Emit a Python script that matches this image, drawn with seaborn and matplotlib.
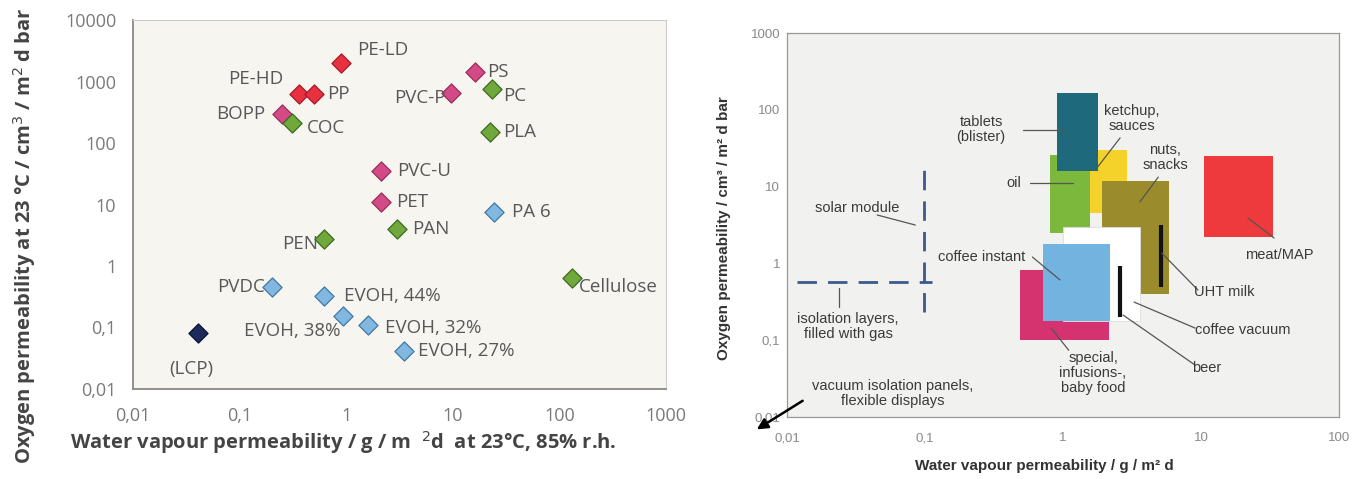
import pandas as pd
import matplotlib.pyplot as plt
import seaborn as sns
from matplotlib.ticker import FixedLocator, FixedFormatter, NullLocator

# left panel: materials
materials = ['PE-LD', 'PE-HD', 'PP', 'BOPP', 'COC', 'PVC-P', 'PS', 'PC', 'PLA',
             'PVC-U', 'PET', 'PA 6', 'PAN', 'PEN', 'Cellulose', 'PVDC',
             'EVOH, 44%', 'EVOH, 38%', 'EVOH, 32%', 'EVOH, 27%', '(LCP)']
wvtr = [0.9, 0.36, 0.5, 0.25, 0.31, 9.5, 16, 23, 22,
        2.1, 2.1, 24, 3.0, 0.62, 131, 0.20,
        0.62, 0.94, 1.6, 3.5, 0.041]
otr = [2000, 620, 620, 300, 210, 660, 1450, 750, 153,
       35, 11.2, 7.7, 4.0, 2.7, 0.65, 0.45,
       0.33, 0.155, 0.11, 0.042, 0.081]
group = ['polyolefin', 'polyolefin', 'polyolefin', 'vinyl', 'green', 'vinyl', 'vinyl', 'green', 'green',
         'vinyl', 'vinyl', 'blue', 'green', 'green', 'green', 'blue',
         'blue', 'blue', 'blue', 'blue', 'navy']

left_ticks = [0.01, 0.1, 1, 10, 100, 1000, 10000]
left_ticklabels = ['0,01', '0,1', '1', '10', '100', '1000', '10000']

# right panel: packaging requirements (x range, y range)
products = ['tablets', 'oil', 'ketchup', 'nuts', 'meat', 'coffee vacuum', 'coffee instant', 'special']
prod_x0 = [0.9, 0.8, 1.58, 1.9, 10.5, 1.0, 0.71, 0.49]
prod_x1 = [1.8, 1.58, 2.9, 5.9, 33, 3.6, 2.2, 2.15]
prod_y0 = [16, 2.5, 4.5, 0.4, 2.2, 0.18, 0.18, 0.1]
prod_y1 = [165, 26, 30, 12, 25, 3.0, 1.8, 0.83]

# vertical bars: beer, UHT milk
bar_names = ['beer', 'UHT milk']
bar_x = [2.6, 5.1]
bar_y0 = [0.2, 0.5]
bar_y1 = [0.92, 3.2]

right_ticks_x = [0.01, 0.1, 1, 10, 100]
right_ticklabels_x = ['0,01', '0,1', '1', '10', '100']
right_ticks_y = [0.01, 0.1, 1, 10, 100, 1000]
right_ticklabels_y = ['0,01', '0,1', '1', '10', '100', '1000']

df = pd.DataFrame({'material': materials, 'wvtr': wvtr, 'otr': otr, 'group': group})

face = {'polyolefin': '#e8303f', 'vinyl': '#d24b86', 'green': '#6fa83c',
        'blue': '#82b8df', 'navy': '#1e2a5c'}
edge = {'polyolefin': '#a8182a', 'vinyl': '#9c2a5a', 'green': '#3f6a1e',
        'blue': '#3f78a8', 'navy': '#0c1432'}

sns.set_style('white')
plt.rcParams['font.family'] = ['Open Sans', 'DejaVu Sans']

fig = plt.figure(figsize=(13.64, 4.79), dpi=100)
ax1 = fig.add_axes([0.0975, 0.188, 0.391, 0.770])
ax2 = fig.add_axes([0.577, 0.1294, 0.4047, 0.8017])

# ---- left panel
ax1.set_facecolor('#f6f5ef')
for g in face:
    sub = df[df['group'] == g]
    sns.scatterplot(data=sub, x='wvtr', y='otr', ax=ax1, marker='D', s=95,
                    color=face[g], edgecolor=edge[g], linewidth=0.9, legend=False, zorder=3)
ax1.set_xscale('log')
ax1.set_yscale('log')
ax1.set_xlim(0.01, 1000)
ax1.set_ylim(0.01, 10000)

# label placement: (dx, dy) in points, ha
place = {
    'PE-LD': (11.5, 9.5, 'left'), 'PE-HD': (-11.5, 11, 'right'),
    'PP': (9, 0, 'left'), 'BOPP': (-12, 0, 'right'),
    'COC': (11, -3.5, 'left'), 'PVC-P': (-3.5, -4, 'right'),
    'PS': (9, 0, 'left'), 'PC': (8.5, -4.5, 'left'),
    'PLA': (10, 0, 'left'), 'PVC-U': (12, 0, 'left'),
    'PET': (11, 0, 'left'), 'PA 6': (13.5, 0, 'left'),
    'PAN': (11, 0, 'left'), 'PEN': (-4.5, -3.5, 'right'),
    'Cellulose': (5, -6.5, 'left'), 'PVDC': (-5, 0, 'right'),
    'EVOH, 44%': (14, 0, 'left'), 'EVOH, 38%': (-2, -11, 'right'),
    'EVOH, 32%': (12, -2, 'left'), 'EVOH, 27%': (10, 0, 'left'),
    '(LCP)': (-5, -26, 'center'),
}
for m, x, y in zip(materials, wvtr, otr):
    dx, dy, ha = place[m]
    ax1.annotate(m, (x, y), xytext=(dx, dy), textcoords='offset points',
                 ha=ha, va='center', fontsize=13.5, color='#585858')

ax1.xaxis.set_major_locator(FixedLocator(left_ticks[:-1]))
ax1.xaxis.set_major_formatter(FixedFormatter(left_ticklabels[:-1]))
ax1.yaxis.set_major_locator(FixedLocator(left_ticks))
ax1.yaxis.set_major_formatter(FixedFormatter(left_ticklabels))
ax1.xaxis.set_minor_locator(NullLocator())
ax1.yaxis.set_minor_locator(NullLocator())
ax1.tick_params(axis='both', which='major', direction='inout', length=8, width=1,
                color='#777777', labelcolor='#7a7a7a', labelsize=13, pad=8)
ax1.tick_params(axis='x', pad=9)
for side, sp in ax1.spines.items():
    sp.set_color('#888888' if side in ('left', 'bottom') else '#cccccc')
    sp.set_linewidth(1.3 if side in ('left', 'bottom') else 0.8)
ax1.set_xlabel('Water vapour permeability / g / m  $^2$d  at 23°C, 85% r.h.',
               fontsize=14.5, fontweight='bold', color='#444444', va='center')
ax1.set_ylabel('Oxygen permeability at 23 °C / cm$^3$ / m$^2$ d bar',
               fontsize=14.5, fontweight='bold', color='#444444', va='center')
ax1.xaxis.set_label_coords(0.394, -0.146)
ax1.yaxis.set_label_coords(-0.203, 0.415)

# ---- right panel
rfont = ['Liberation Sans', 'DejaVu Sans']
ax2.set_facecolor('#f1f1ef')
ax2.set_xscale('log')
ax2.set_yscale('log')
ax2.set_xlim(0.01, 100)
ax2.set_ylim(0.01, 1000)

colors = {'tablets': '#1e6a7c', 'oil': '#7cb83c', 'ketchup': '#f4d22a', 'nuts': '#9a8b2c',
          'meat': '#ee3a3c', 'coffee vacuum': '#ffffff', 'coffee instant': '#72b3e0',
          'special': '#d5336f'}
zorders = {'special': 2, 'ketchup': 2, 'oil': 3, 'tablets': 4, 'nuts': 3,
           'coffee vacuum': 5, 'coffee instant': 6, 'meat': 2}
for p, x0, x1, y0, y1 in zip(products, prod_x0, prod_x1, prod_y0, prod_y1):
    ax2.bar(x0, y1 - y0, width=x1 - x0, bottom=y0, align='edge', color=colors[p],
            edgecolor='#dddddd' if p == 'coffee vacuum' else 'none', linewidth=0.6,
            zorder=zorders[p])
ax2.vlines(bar_x, bar_y0, bar_y1, color='#111111', linewidth=3, zorder=7)

# solar module / isolation layers dashed lines
dash = (0, (7, 4))
ax2.plot([0.098, 0.098], [0.233, 17.5], color='#3c5a8c', linestyle=dash, linewidth=2, zorder=3)
ax2.plot([0.0118, 0.112], [0.57, 0.57], color='#3c5a8c', linestyle=dash, linewidth=2, zorder=3)

# labels with leader lines: text, text pos, line start, line end, ha
leaders = [
    ('tablets\n(blister)', (0.255, 55), (0.51, 55), (1.02, 55), 'center'),
    ('ketchup,\nsauces', (3.16, 78), (2.59, 43), (1.76, 17.5), 'center'),
    ('nuts,\nsnacks', (5.5, 24), (4.9, 13.3), (3.6, 6.3), 'center'),
    ('oil', (0.44, 11.1), (0.58, 11.1), (1.18, 11.1), 'center'),
    ('solar module', (0.032, 5.3), (0.045, 4.27), (0.085, 3.16), 'center'),
    ('coffee instant', (0.255, 1.21), (0.6, 1.21), (0.95, 0.61), 'center'),
    ('isolation layers,\nfilled with gas', (0.0277, 0.149), (0.0238, 0.48), (0.0238, 0.27), 'center'),
    ('meat/MAP', (37, 1.3), (21.9, 3.9), (33.8, 2.14), 'center'),
    ('UHT milk', (14.7, 0.42), (5.2, 1.36), (9.5, 0.45), 'center'),
    ('coffee vacuum', (20, 0.136), (3.27, 0.314), (9.05, 0.144), 'center'),
    ('special,\ninfusions-,\nbaby food', (1.65, 0.037), (0.82, 0.144), (1.1, 0.074), 'center'),
    ('beer', (10.9, 0.044), (2.72, 0.213), (9.05, 0.0475), 'center'),
    ('vacuum isolation panels,\nflexible displays', (0.058, 0.0204), None, None, 'center'),
]
for txt, tpos, l0, l1, ha in leaders:
    ax2.text(tpos[0], tpos[1], txt, ha=ha, va='center', fontsize=10.5, color='#3a3a3a',
             family=rfont, linespacing=1.1, zorder=9)
    if l0 is not None:
        ax2.plot([l0[0], l1[0]], [l0[1], l1[1]], color='#555555', linewidth=0.9, zorder=8)

ax2.annotate('', xy=(0.0058, 0.0066), xytext=(0.0135, 0.017),
             arrowprops=dict(arrowstyle='-|>', color='black', lw=1.8, mutation_scale=16),
             annotation_clip=False)

ax2.xaxis.set_major_locator(FixedLocator(right_ticks_x))
ax2.xaxis.set_major_formatter(FixedFormatter(right_ticklabels_x))
ax2.yaxis.set_major_locator(FixedLocator(right_ticks_y))
ax2.yaxis.set_major_formatter(FixedFormatter(right_ticklabels_y))
ax2.xaxis.set_minor_locator(NullLocator())
ax2.yaxis.set_minor_locator(NullLocator())
ax2.tick_params(axis='both', which='major', direction='inout', length=6, width=0.8,
                color='#999999', labelcolor='#8a8a8a', labelsize=9.5, pad=2)
for lab in ax2.get_xticklabels() + ax2.get_yticklabels():
    lab.set_family(rfont)
ax2.tick_params(axis='x', pad=8)
for sp in ax2.spines.values():
    sp.set_color('#999999')
    sp.set_linewidth(0.9)
ax2.set_xlabel('Water vapour permeability / g / m² d', fontsize=11, fontweight='bold',
               color='#333333', family=rfont, va='center')
ax2.set_ylabel('Oxygen permeability / cm³ / m² d bar', fontsize=11, fontweight='bold',
               color='#333333', family=rfont, va='center')
ax2.xaxis.set_label_coords(0.466, -0.128)
ax2.yaxis.set_label_coords(-0.114, 0.492)

plt.savefig('out.png', dpi=100)
